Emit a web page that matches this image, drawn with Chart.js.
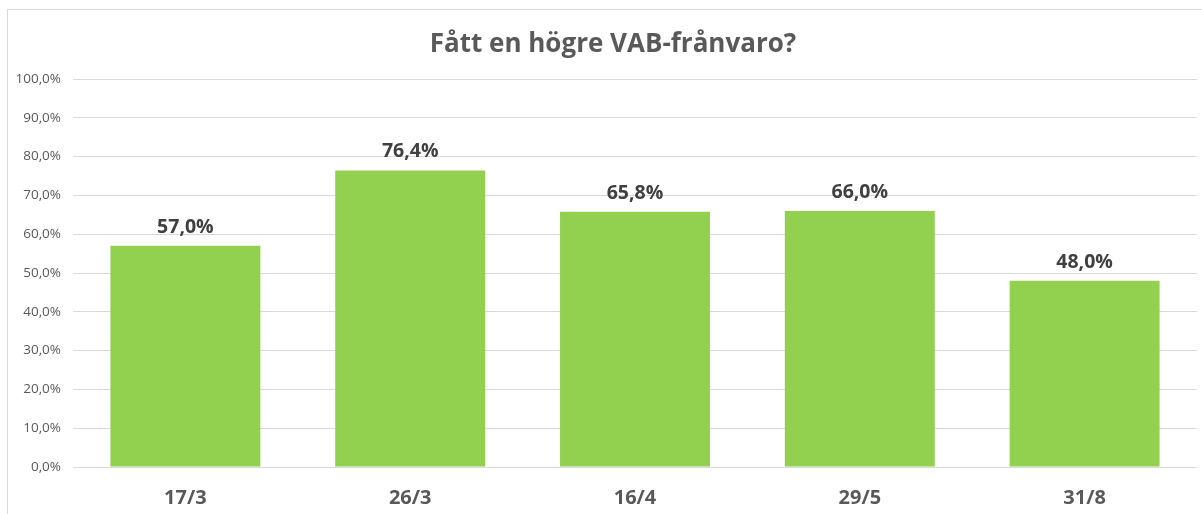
<!DOCTYPE html>
<html>
<head>
<meta charset="utf-8">
<script src="https://cdn.jsdelivr.net/npm/chart.js@4"></script>
<style>
    html, body { margin: 0; padding: 0; background: #fff; overflow: hidden; }
    #frame { position: absolute; left: 7px; top: 9px; width: 1240px; height: 540px; border: 1px solid #d9d9d9; }
    #wrap { position: absolute; left: 0; top: 0; width: 1202px; height: 514px; }
</style>
</head>
<body>
<div id="frame"></div>
<div id="wrap"><canvas id="canvas1"></canvas></div>
<script>
let labels1 = ['17/3', '26/3', '16/4', '29/5', '31/8'];
let data1 = [57.0, 76.4, 65.8, 66.0, 48.0];
let title1 = 'Fått en högre VAB-frånvaro?';

function pct(v) {
    return v.toFixed(1).replace('.', ',') + '%';
}

// title (the original chart is wider than the crop, so it sits right of centre) + labels above the bars
let barLabels = {
    id: 'barLabels',
    afterDatasetsDraw: function (chart) {
        let ctx = chart.ctx;
        let meta = chart.getDatasetMeta(0);
        ctx.save();
        ctx.font = 'bold 26px "Open Sans"';
        ctx.fillStyle = '#595959';
        ctx.textAlign = 'center';
        ctx.textBaseline = 'middle';
        ctx.fillText(title1, 613, 45);

        ctx.font = 'bold 19.5px "Open Sans"';
        ctx.fillStyle = '#404040';
        ctx.textBaseline = 'bottom';
        meta.data.forEach(function (bar, i) {
            ctx.fillText(pct(data1[i]), bar.x, bar.y - 9);
        });
        ctx.restore();
    }
};

let canvas1 = document.getElementById('canvas1');
let chart1 = new Chart(canvas1, {
    type: 'bar',
    data: {
        labels: labels1,
        datasets: [{
            label: 'VAB',
            data: data1,
            backgroundColor: '#92d050',
            categoryPercentage: 1,
            barPercentage: 0.667
        }]
    },
    options: {
        responsive: true,
        maintainAspectRatio: false,
        animation: false,
        layout: { padding: { left: 0, right: 5, top: 79, bottom: 5 } },
        plugins: {
            legend: { display: false },
            tooltip: { enabled: false },
            title: { display: false }
        },
        scales: {
            x: {
                afterFit: function (scale) { scale.height = 42; },
                grid: { display: false },
                border: { display: false },
                ticks: {
                    color: '#595959',
                    padding: 11,
                    font: { family: 'Open Sans', size: 20, weight: 'bold' }
                }
            },
            y: {
                min: 0,
                max: 100,
                afterFit: function (scale) { scale.width = 73; },
                grid: { color: '#d9d9d9', lineWidth: 1, drawTicks: false },
                border: { display: false },
                ticks: {
                    stepSize: 10,
                    color: '#595959',
                    padding: 12,
                    font: { family: 'Open Sans', size: 13.5 },
                    callback: function (v) { return pct(v); }
                }
            }
        }
    },
    plugins: [barLabels]
});
</script>
</body>
</html>
